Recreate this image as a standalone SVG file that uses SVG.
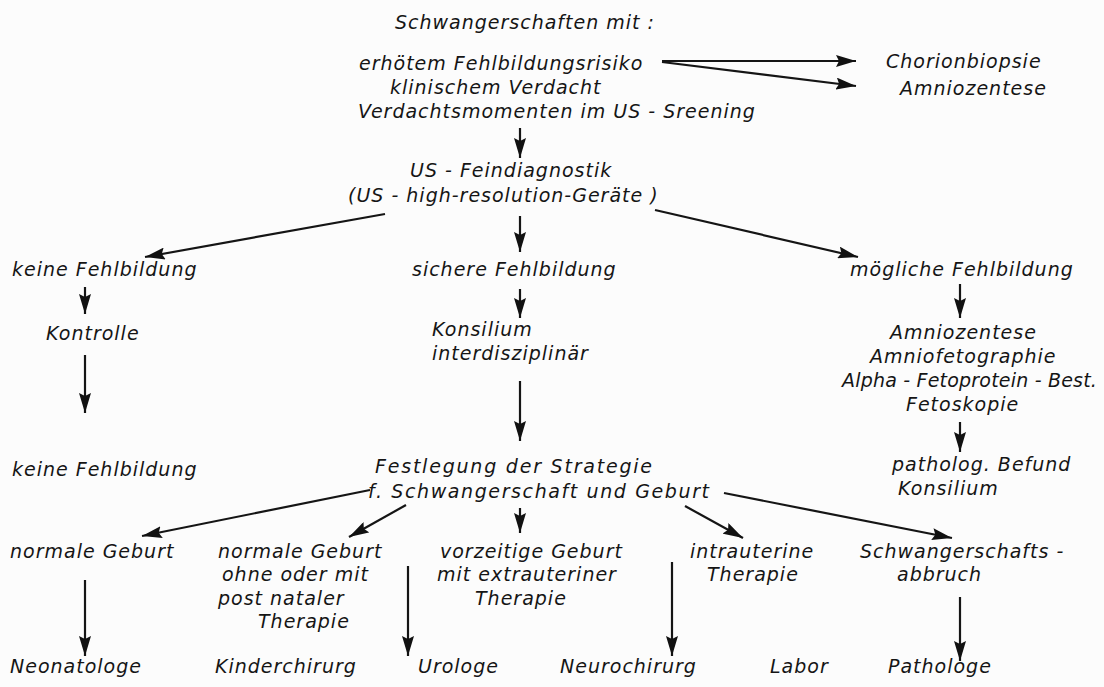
<svg xmlns="http://www.w3.org/2000/svg" width="1104" height="687" viewBox="0 0 1104 687">
<defs>
<marker id="ah" markerUnits="userSpaceOnUse" markerWidth="22" markerHeight="12" refX="20" refY="6" orient="auto">
<path d="M0,0 L20,6 L0,12 L3,6 Z" fill="#111"/>
</marker>
<style>
text{font-family:"DejaVu Sans","Liberation Sans",sans-serif;font-style:italic;font-size:19px;letter-spacing:1px;fill:#151515}
.tight{letter-spacing:0.2px}
.c line{stroke:#151515;stroke-width:2.2;marker-end:url(#ah)}
</style>
</defs>
<rect width="1104" height="687" fill="#fcfcfc"/>
<g id="n-start">
<text x="395" y="29">Schwangerschaften mit :</text>
<text x="359" y="70">erhötem Fehlbildungsrisiko</text>
<text x="390" y="94">klinischem Verdacht</text>
<text x="358" y="118">Verdachtsmomenten im US - Sreening</text>
</g>
<g id="n-invasiv">
<text x="886" y="68">Chorionbiopsie</text>
<text x="900" y="95">Amniozentese</text>
</g>
<g id="n-us">
<text x="410" y="177">US - Feindiagnostik</text>
<text x="348" y="202">(US - high-resolution-Geräte )</text>
</g>
<g id="n-keine">
<text x="12" y="276">keine Fehlbildung</text>
</g>
<g id="n-sichere">
<text x="412" y="276">sichere Fehlbildung</text>
</g>
<g id="n-moegliche">
<text x="850" y="276">mögliche Fehlbildung</text>
</g>
<g id="n-kontrolle">
<text x="46" y="340">Kontrolle</text>
</g>
<g id="n-konsilium">
<text x="432" y="336">Konsilium</text>
<text x="432" y="360">interdisziplinär</text>
</g>
<g id="n-diagnostik">
<text x="890" y="339">Amniozentese</text>
<text x="870" y="363">Amniofetographie</text>
<text x="842" y="387" class="tight">Alpha - Fetoprotein - Best.</text>
<text x="906" y="411">Fetoskopie</text>
</g>
<g id="n-befund">
<text x="892" y="471">patholog. Befund</text>
<text x="898" y="495">Konsilium</text>
</g>
<g id="n-keine2">
<text x="12" y="476">keine Fehlbildung</text>
</g>
<g id="n-strategie">
<text x="375" y="473" textLength="278">Festlegung der Strategie</text>
<text x="368" y="498" textLength="342">f. Schwangerschaft und Geburt</text>
</g>
<g id="n-geburt1">
<text x="10" y="558">normale Geburt</text>
</g>
<g id="n-geburt2">
<text x="218" y="558">normale Geburt</text>
<text x="222" y="581">ohne oder mit</text>
<text x="218" y="605">post nataler</text>
<text x="258" y="628">Therapie</text>
</g>
<g id="n-vorzeitig">
<text x="440" y="558">vorzeitige Geburt</text>
<text x="437" y="581">mit extrauteriner</text>
<text x="475" y="605">Therapie</text>
</g>
<g id="n-intrauterin">
<text x="690" y="558">intrauterine</text>
<text x="707" y="581">Therapie</text>
</g>
<g id="n-abbruch">
<text x="860" y="558">Schwangerschafts -</text>
<text x="897" y="581">abbruch</text>
</g>
<g id="n-neonatologe"><text x="10" y="673">Neonatologe</text></g>
<g id="n-kinderchirurg"><text x="215" y="673">Kinderchirurg</text></g>
<g id="n-urologe"><text x="418" y="673">Urologe</text></g>
<g id="n-neurochirurg"><text x="560" y="673">Neurochirurg</text></g>
<g id="n-labor"><text x="770" y="673">Labor</text></g>
<g id="n-pathologe"><text x="888" y="673">Pathologe</text></g>
<g id="connectors" class="c">
<line x1="662" y1="61" x2="856" y2="61"/>
<line x1="662" y1="62" x2="856" y2="86"/>
<line x1="520" y1="128" x2="520" y2="158"/>
<line x1="385" y1="214" x2="145" y2="257"/>
<line x1="520" y1="216" x2="520" y2="252"/>
<line x1="655" y1="210" x2="858" y2="257"/>
<line x1="85" y1="287" x2="85" y2="314"/>
<line x1="520" y1="289" x2="520" y2="318"/>
<line x1="960" y1="284" x2="960" y2="318"/>
<line x1="85" y1="355" x2="85" y2="413"/>
<line x1="520" y1="381" x2="520" y2="441"/>
<line x1="960" y1="422" x2="960" y2="452"/>
<line x1="370" y1="490" x2="142" y2="536"/>
<line x1="406" y1="505" x2="349" y2="537"/>
<line x1="520" y1="508" x2="520" y2="533"/>
<line x1="685" y1="506" x2="743" y2="538"/>
<line x1="724" y1="493" x2="952" y2="538"/>
<line x1="85" y1="580" x2="85" y2="656"/>
<line x1="408" y1="566" x2="408" y2="656"/>
<line x1="672" y1="562" x2="672" y2="656"/>
<line x1="960" y1="597" x2="960" y2="661"/>
</g>
</svg>
